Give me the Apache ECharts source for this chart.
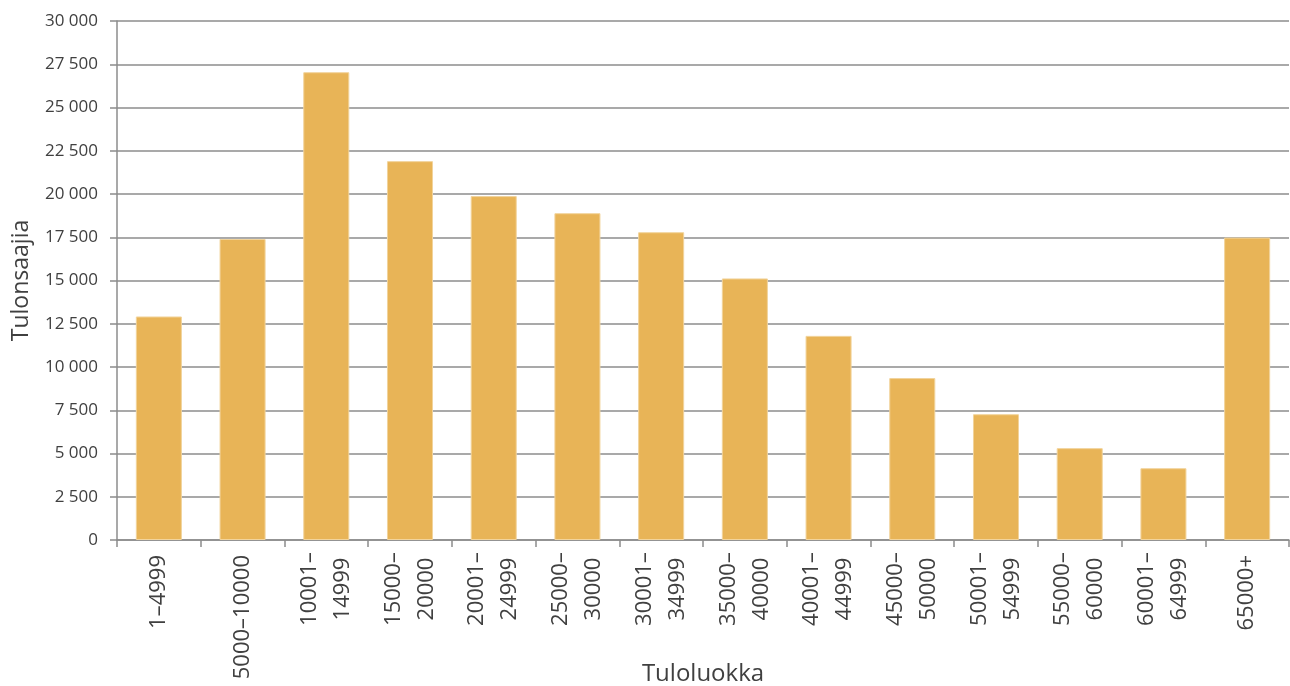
<!DOCTYPE html>
<html>
<head>
<meta charset="utf-8">
<script src="https://cdn.jsdelivr.net/npm/echarts@6/dist/echarts.min.js"></script>
<style>
  html, body { margin: 0; padding: 0; background: #fff; overflow: hidden; }
  #chart { width: 1290px; height: 686px; }
</style>
</head>
<body>
<div id="chart"></div>
<script>
// tuloluokat (x-akseli)
var categories = [
  '1–4999', '5000–10000', '10001–\n14999', '15000–\n20000', '20001–\n24999',
  '25000–\n30000', '30001–\n34999', '35000–\n40000', '40001–\n44999', '45000–\n50000',
  '50001–\n54999', '55000–\n60000', '60001–\n64999', '65000+'
];
// tulonsaajien määrä
var values = [12920, 17400, 27040, 21900, 19880, 18890, 17790, 15120, 11800, 9360, 7270, 5310, 4150, 17480];

var yMin = 0, yMax = 30000, yStep = 2500;

var chart = echarts.init(document.getElementById('chart'));
var textColor = '#404040';
var lineColor = '#8c8c8c';
var font = '"Open Sans", "Noto Sans", sans-serif';

chart.setOption({
  animation: false,
  textStyle: { fontFamily: font, color: textColor },
  grid: { left: 117, right: 1, top: 21, bottom: 146, containLabel: false, outerBoundsMode: 'none' },
  xAxis: {
    type: 'category',
    data: categories,
    name: 'Tuloluokka',
    nameLocation: 'middle',
    nameGap: 122,
    nameMoveOverlap: false,
    nameTextStyle: { fontSize: 24, color: textColor, fontFamily: font, verticalAlign: 'top' },
    axisLine: { lineStyle: { color: lineColor, width: 1.5 } },
    axisTick: { show: true, length: 7, lineStyle: { color: lineColor, width: 1.5 } },
    axisLabel: {
      rotate: 90,
      margin: 15,
      interval: 0,
      color: textColor,
      fontSize: 22,
      lineHeight: 33,
      fontFamily: font,
      formatter: function (v) {
        var parts = v.split('\n');
        if (parts.length === 1) return '{s|' + v + '}';
        return parts.map(function (s) { return '{c|' + s + '}'; }).join('\n');
      },
      rich: {
        s: { fontSize: 22, lineHeight: 33, color: textColor, fontFamily: font },
        c: { align: 'center', width: 68, fontSize: 22, lineHeight: 33, color: textColor, fontFamily: font }
      }
    },
    splitLine: { show: false }
  },
  yAxis: {
    type: 'value',
    min: yMin,
    max: yMax,
    interval: yStep,
    name: 'Tulonsaajia',
    nameLocation: 'middle',
    nameGap: 84,
    nameMoveOverlap: false,
    nameTextStyle: { fontSize: 23, color: textColor, fontFamily: font },
    axisLine: { show: true, lineStyle: { color: lineColor, width: 1.5 } },
    axisTick: { show: true, length: 7, lineStyle: { color: lineColor, width: 1.5 } },
    axisLabel: {
      margin: 19,
      fontSize: 17,
      color: textColor,
      fontFamily: font,
      formatter: function (v) {
        return String(v).replace(/\B(?=(\d{3})+(?!\d))/g, ' ');
      }
    },
    splitLine: { show: true, lineStyle: { color: lineColor, width: 1.5 } }
  },
  series: [{
    type: 'bar',
    data: values,
    barWidth: '55%',
    itemStyle: { color: '#e8b457', borderColor: '#f2d49c', borderWidth: 1 }
  }]
});
</script>
</body>
</html>
